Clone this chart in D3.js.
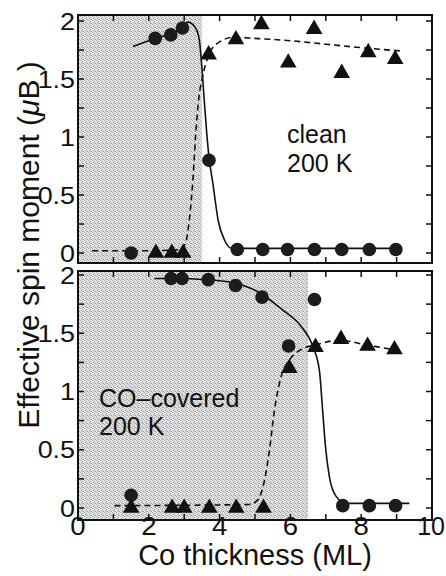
<!DOCTYPE html>
<html><head><meta charset="utf-8">
<script src="https://cdn.jsdelivr.net/npm/d3@7"></script>
<style>body{margin:0;background:#fff}svg{display:block}text{font-family:"Liberation Sans",Arial,Helvetica,sans-serif;fill:#111}</style>
</head><body><div id="chart"></div>
<script>
// ---- data ----
const xTickVals = [0,2,4,6,8,10];
const yTickVals = [0,0.5,1,1.5,2];
const yTickLabels = ["0","0.5","1","1.5","2"];

// clean, 200 K (top panel)
const cleanCircX = [1.5,2.18,2.62,2.95,3.7,4.5,5.22,5.92,6.68,7.45,8.23,8.98];
const cleanCircY = [0.0,1.85,1.88,1.94,0.80,0.03,0.03,0.03,0.03,0.03,0.03,0.03];
const cleanTriX = [2.2,2.65,2.97,3.69,4.46,5.18,5.94,6.67,7.45,8.2,8.96];
const cleanTriY = [0,0,0,1.71,1.84,1.97,1.64,1.93,1.55,1.73,1.67];
const cleanSolidX = [1.55,2.18,2.62,2.95,3.1,3.3,3.42,3.5,3.57,3.64,3.71,3.81,3.96,4.14,4.35,5.0,9.15];
const cleanSolidY = [1.78,1.85,1.89,1.94,1.99,1.95,1.85,1.6,1.3,1.02,0.8,0.6,0.28,0.11,0.04,0.04,0.04];
const cleanDashX = [0.4,2.0,2.9,3.05,3.15,3.25,3.32,3.4,3.52,3.67,3.95,4.4,5.0,6.0,7.0,8.0,9.2];
const cleanDashY = [0.02,0.02,0.03,0.1,0.3,0.65,1.0,1.3,1.52,1.69,1.81,1.86,1.85,1.83,1.8,1.77,1.74];
const cleanShadeEnd = 3.5;

// CO-covered, 200 K (bottom panel)
const coCircX = [1.5,2.63,2.94,3.68,4.45,5.2,5.95,6.68,7.48,8.23,8.97];
const coCircY = [0.11,1.97,1.97,1.96,1.91,1.81,1.39,1.79,0.02,0.02,0.02];
const coTriX = [1.5,2.66,3.0,3.71,4.47,5.24,5.97,6.71,7.43,8.18,8.94];
const coTriY = [0,0,0,0,0,0,1.2,1.38,1.45,1.39,1.36];
const coSolidX = [2.16,2.9,3.6,4.28,5.12,5.78,6.3,6.63,6.82,6.91,6.99,7.1,7.29,7.57,9.36];
const coSolidY = [1.97,1.97,1.96,1.94,1.85,1.7,1.56,1.39,1.18,0.84,0.53,0.27,0.1,0.04,0.04];
const coDashX = [1.03,4.84,5.08,5.27,5.41,5.55,5.74,5.97,6.3,6.71,7.39,8.14,9.08];
const coDashY = [0.02,0.03,0.07,0.24,0.5,0.84,1.13,1.27,1.36,1.4,1.44,1.4,1.35];
const coShadeEnd = 6.5;

// ---- drawing ----
const W = 446, H = 576;
const svg = d3.select("#chart").append("svg").attr("width", W).attr("height", H);

const defs = svg.append("defs");
const pat = defs.append("pattern").attr("id","stip").attr("patternUnits","userSpaceOnUse").attr("width",4).attr("height",4);
pat.append("rect").attr("width",4).attr("height",4).attr("fill","#e2e2e2");
[[0,0],[2,1],[1,2],[3,3],[2,3]].forEach(([a,b])=>pat.append("rect").attr("x",a).attr("y",b).attr("width",1).attr("height",1).attr("fill","#a8a8a8"));

const x = d3.scaleLinear().domain([0,10]).range([78,432]);

const panels = [
  {top:15, bottom:263, y: d3.scaleLinear().domain([0,2]).range([253,21]),
   circX:cleanCircX, circY:cleanCircY, triX:cleanTriX, triY:cleanTriY,
   sX:cleanSolidX, sY:cleanSolidY, dX:cleanDashX, dY:cleanDashY, shade:cleanShadeEnd,
   labels:[{t:"clean",x:287,y:143},{t:"200 K",x:287,y:172}], xlabels:false},
  {top:271, bottom:520, y: d3.scaleLinear().domain([0,2]).range([508,275]),
   circX:coCircX, circY:coCircY, triX:coTriX, triY:coTriY,
   sX:coSolidX, sY:coSolidY, dX:coDashX, dY:coDashY, shade:coShadeEnd,
   labels:[{t:"CO\u2013covered",x:99,y:407},{t:"200 K",x:99,y:435}], xlabels:true}
];

panels.forEach(p => {
  const g = svg.append("g");
  const y = p.y;
  const x0 = x.range()[0], x1 = x.range()[1];
  // shading
  g.append("rect").attr("x",x0).attr("y",p.top).attr("width",x(p.shade)-x0).attr("height",p.bottom-p.top).attr("fill","url(#stip)");
  // ticks (inward)
  const tk = 6;
  d3.range(1,10).forEach(v => {
    g.append("line").attr("x1",x(v)).attr("x2",x(v)).attr("y1",p.bottom).attr("y2",p.bottom-tk).attr("stroke","#111").attr("stroke-width",1.5);
    g.append("line").attr("x1",x(v)).attr("x2",x(v)).attr("y1",p.top).attr("y2",p.top+tk).attr("stroke","#111").attr("stroke-width",1.5);
  });
  d3.range(0,9).map(i=>i*0.25).forEach(v => {
    const yy = y(v);
    if (yy < p.top+1 || yy > p.bottom-1) return;
    g.append("line").attr("x1",x0).attr("x2",x0+tk).attr("y1",yy).attr("y2",yy).attr("stroke","#111").attr("stroke-width",1.5);
    g.append("line").attr("x1",x1).attr("x2",x1-tk).attr("y1",yy).attr("y2",yy).attr("stroke","#111").attr("stroke-width",1.5);
  });
  // frame
  g.append("rect").attr("x",x0).attr("y",p.top).attr("width",x1-x0).attr("height",p.bottom-p.top)
    .attr("fill","none").attr("stroke","#111").attr("stroke-width",2);
  // y tick labels
  yTickVals.forEach((v,i) => {
    g.append("text").attr("transform",`translate(75,${y(v)+8.5}) scale(1.12,1)`)
      .attr("text-anchor","end").attr("font-size",24).text(yTickLabels[i]);
  });
  // curves
  const line = d3.line().x(d=>x(d[0])).y(d=>y(d[1])).curve(d3.curveMonotoneX);
  g.append("path").attr("d", line(p.sX.map((v,i)=>[v,p.sY[i]]))).attr("fill","none").attr("stroke","#111").attr("stroke-width",1.6);
  g.append("path").attr("d", line(p.dX.map((v,i)=>[v,p.dY[i]]))).attr("fill","none").attr("stroke","#111").attr("stroke-width",1.6).attr("stroke-dasharray","6,4");
  // markers
  g.selectAll(null).data(p.circX.map((v,i)=>[v,p.circY[i]])).enter().append("circle")
    .attr("cx",d=>x(d[0])).attr("cy",d=>y(d[1])).attr("r",6.8).attr("fill","#1c1c1c");
  const tri = d3.symbol().type(d3.symbolTriangle).size(120);
  g.selectAll(null).data(p.triX.map((v,i)=>[v,p.triY[i]])).enter().append("path")
    .attr("d",tri).attr("transform",d=>`translate(${x(d[0])},${y(d[1])})`).attr("fill","#111");
  // annotations
  p.labels.forEach(l => g.append("text").attr("x",l.x).attr("y",l.y).attr("font-size",25).text(l.t));
  if (p.xlabels) {
    xTickVals.forEach(v => {
      const last = v === xTickVals[xTickVals.length-1];
      g.append("text")
        .attr("transform", last ? `translate(445,535)` : `translate(${x(v)},535) scale(1.1,1)`)
        .attr("text-anchor", last ? "end" : "middle").attr("font-size",25).text(v);
    });
  }
});

// axis titles
svg.append("text").attr("x",255).attr("y",565).attr("text-anchor","middle").attr("font-size",29).text("Co thickness (ML)");
const yt = svg.append("text").attr("transform","translate(39,245) rotate(-90)").attr("text-anchor","middle").attr("font-size",30);
yt.append("tspan").text("Effective spin moment (");
yt.append("tspan").attr("font-style","italic").text("\u03bc");
yt.append("tspan").text("B");
yt.append("tspan").text(" )");
</script></body></html>
